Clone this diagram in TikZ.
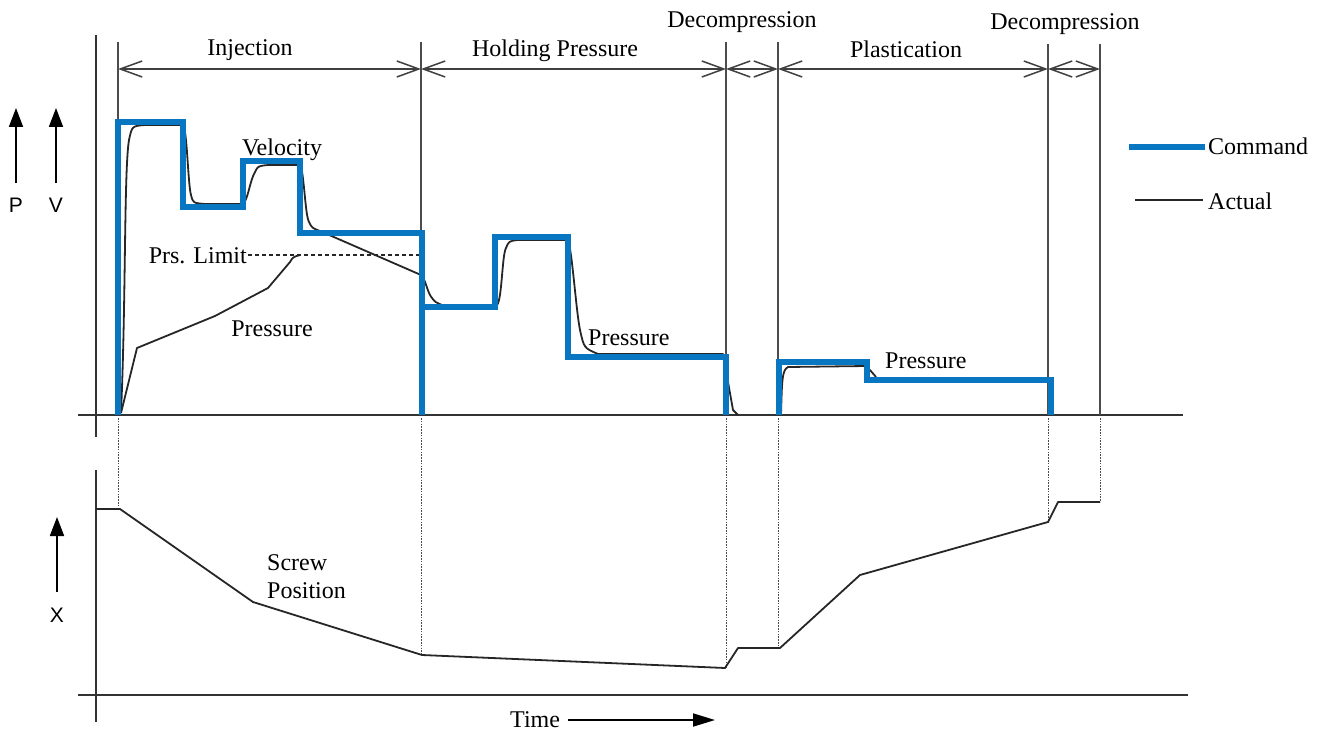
\documentclass[tikz,border=0pt]{standalone}
\usepackage{fontspec}
\setmainfont{Liberation Serif}
\newfontfamily\sansf{Liberation Sans}
\usetikzlibrary{arrows.meta}
\definecolor{cmdblue}{RGB}{8,118,192}
\begin{document}
\begin{tikzpicture}[x=1pt,y=-1pt,
  axis/.style={line width=2.2pt, draw=black!80},
  phase/.style={line width=1.5pt, draw=black!70},
  guide/.style={line width=1pt, draw=black!70, dash pattern=on 1.5pt off 1.3pt},
  cmd/.style={line width=6.5pt, draw=cmdblue, line join=miter},
  act/.style={line width=1.8pt, draw=black!85, line join=round},
  lbl/.style={font=\fontsize{24}{28}\selectfont, inner sep=0pt},
  slbl/.style={font=\sansf\fontsize{21}{24}\selectfont, inner sep=0pt},
  dimarrow/.style={line width=1.5pt, draw=black!75, {Straight Barb[length=22pt,width=16pt]}-{Straight Barb[length=22pt,width=16pt]}},
  uparrow/.style={line width=1.8pt, draw=black, -{Triangle[length=19pt,width=14pt]}},
]
\useasboundingbox (0,0) rectangle (1332,733);

% axes
\draw[axis] (96,35) -- (96,437);
\draw[axis] (78,415) -- (1183,415);
\draw[axis] (96,470) -- (96,722);
\draw[axis] (78,695) -- (1188,695);

% phase boundaries
\coordinate (b1) at (118,42);
\coordinate (b2) at (421,42);
\coordinate (b3) at (726,42);
\coordinate (b4) at (778,42);
\coordinate (b5) at (1048,44);
\coordinate (b6) at (1100,44);
\draw[phase] (b1) -- (118,415);
\draw[phase] (b2) -- (421,415);
\draw[phase] (b3) -- (726,415);
\draw[phase] (b4) -- (778,415);
\draw[phase] (b5) -- (1048,415);
\draw[phase] (b6) -- (1100,415);

% dimension arrows
\draw[dimarrow] (118,69) -- (421,69);
\draw[dimarrow] (421,69) -- (726,69);
\draw[dimarrow] (726,69) -- (778,69);
\draw[dimarrow] (778,69) -- (1048,69);
\draw[dimarrow] (1048,69) -- (1100,69);

% phase labels
\node[lbl, anchor=base] (tinj) at (250,56) {Injection};
\node[lbl, anchor=base] (thold) at (555,57) {Holding Pressure};
\node[lbl, anchor=base] (tdec1) at (742,28) {Decompression};
\node[lbl, anchor=base] (tplast) at (906,58) {Plastication};
\node[lbl, anchor=base] (tdec2) at (1065,30) {Decompression};

% axis labels
\draw[uparrow] (16,183) -- (16,108);
\draw[uparrow] (56,183) -- (56,108);
\node[slbl, anchor=base] (lp) at (16,212) {P};
\node[slbl, anchor=base] (lv) at (56,212) {V};
\draw[uparrow] (57,592) -- (57,517);
\node[slbl, anchor=base] (lx) at (57,622) {X};
\node[lbl, anchor=base west] (ltime) at (510,727) {Time};
\draw[line width=1.8pt, -{Triangle[length=22pt,width=13pt]}] (568,720) -- (715,720);

% dotted guides into lower panel
\draw[guide] (118,418) -- (118,509);
\draw[guide] (421,418) -- (421,655);
\draw[guide] (726,418) -- (726,668);
\draw[guide] (778,418) -- (778,648);
\draw[guide] (1048,418) -- (1048,522);
\draw[guide] (1100,418) -- (1100,502);

% pressure limit
\draw[line width=1.5pt, draw=black!85, dash pattern=on 4pt off 3pt] (248,255) -- (421,255);
\node[lbl, anchor=base east] (tlim) at (247,263) {Prs. Limit};

% actual curves
\draw[act] (121,413) .. controls (126,300) and (124,170) .. (129,140)
  .. controls (132,126) .. (145,125) -- (183,125)
  .. controls (187,128) and (188,185) .. (191,195)
  .. controls (193,203) .. (205,204) -- (243,204)
  .. controls (248,200) and (250,180) .. (255,172)
  .. controls (258,166) .. (268,165) -- (300,165)
  .. controls (304,170) and (305,215) .. (309,222)
  .. controls (312,228) .. (320,231) -- (421,275)
  .. controls (426,280) and (427,292) .. (432,298)
  .. controls (435,302) .. (442,305) -- (497,305)
  .. controls (502,300) and (502,255) .. (506,248)
  .. controls (509,241) .. (518,240) -- (568,240)
  .. controls (572,250) and (576,310) .. (580,330)
  .. controls (584,348) .. (598,354) -- (723,354) -- (733,410) -- (738,415);
\draw[act] (121,413) -- (137,348) -- (215,316) -- (268,288) -- (290,262)
  .. controls (293,257) .. (300,255);
\draw[act] (781,415) .. controls (782,380) and (782,370) .. (788,367) -- (866,366)
  .. controls (870,370) .. (876,377);

% command curves
\draw[cmd] (118,415) -- (118,122) -- (183,122) -- (183,207) -- (243,207) -- (243,161)
  -- (300,161) -- (300,233) -- (422,233) -- (422,415);
\draw[cmd] (422,307) -- (495,307) -- (495,237) -- (568,237) -- (568,357) -- (726,357) -- (726,415);
\draw[cmd] (779,415) -- (779,362) -- (867,362) -- (867,380) -- (1051,380) -- (1051,415);

% curve labels
\node[lbl, anchor=base] (tvel) at (282,155) {Velocity};
\node[lbl, anchor=base] (tpr1) at (272,336) {Pressure};
\node[lbl, anchor=base west] (tpr2) at (588,345) {Pressure};
\node[lbl, anchor=base west] (tpr3) at (885,368) {Pressure};

% screw position
\draw[act] (96,509) -- (120,509) -- (253,602) -- (422,655) -- (725,668) -- (738,648)
  -- (780,648) -- (860,575) -- (1048,522) -- (1058,502) -- (1100,502);
\node[lbl, anchor=base west] (tscrew) at (267,570) {Screw};
\node[lbl, anchor=base west] (tpos) at (267,598) {Position};

% legend
\draw[cmd] (1129,147) -- (1205,147);
\node[lbl, anchor=base west] (tcmd) at (1208,154) {Command};
\draw[act] (1135,200) -- (1203,200);
\node[lbl, anchor=base west] (tact) at (1208,209) {Actual};
\end{tikzpicture}
\end{document}
